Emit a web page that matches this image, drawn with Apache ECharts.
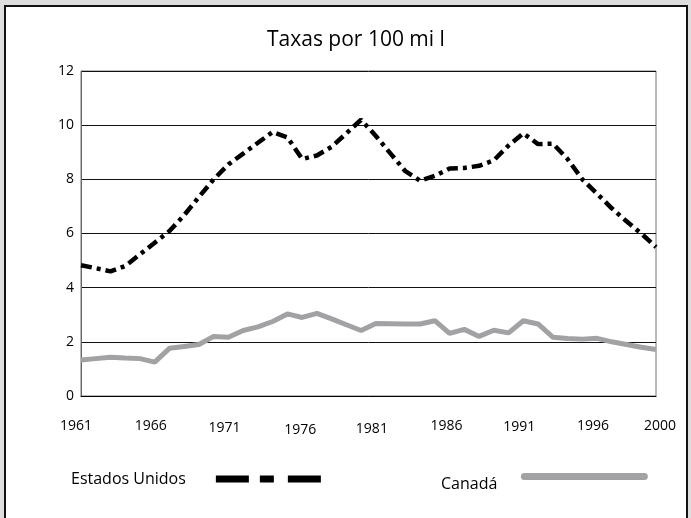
<!DOCTYPE html>
<html>
<head>
<meta charset="utf-8">
<script src="https://cdn.jsdelivr.net/npm/echarts@6/dist/echarts.min.js"></script>
<style>
  html, body { margin: 0; padding: 0; }
  body { width: 691px; height: 518px; background: #dedede; position: relative; overflow: hidden; }
  .frame {
    position: absolute; left: 4px; top: 5px; width: 680px; height: 520px;
    background: #fff; border: 2px solid #111; border-bottom: none;
  }
  #chart { position: absolute; left: 0; top: 0; width: 691px; height: 518px; }
</style>
</head>
<body>
<div class="frame"></div>
<div id="chart"></div>
<script>
// Years 1961..2000
const years = []
for (let y = 1961; y <= 2000; y++) years.push(String(y))

const tickYears = ['1961', '1966', '1971', '1976', '1981', '1986', '1991', '1996', '2000']

const usRates = [
  4.83, 4.72, 4.6, 4.8, 5.23, 5.66, 6.09, 6.68, 7.35, 8.0,
  8.55, 8.95, 9.35, 9.75, 9.55, 8.75, 8.88, 9.2, 9.7, 10.2,
  9.6, 8.95, 8.3, 7.95, 8.13, 8.4, 8.42, 8.5, 8.7, 9.25,
  9.7, 9.3, 9.32, 8.75, 8.0, 7.47, 6.93, 6.45, 6.0, 5.5
]

const canadaRates = [
  1.33, 1.38, 1.43, 1.4, 1.38, 1.25, 1.76, 1.83, 1.9, 2.2,
  2.17, 2.42, 2.55, 2.75, 3.03, 2.9, 3.05, 2.85, 2.63, 2.42,
  2.68, 2.67, 2.66, 2.66, 2.78, 2.31, 2.46, 2.2, 2.43, 2.33,
  2.78, 2.66, 2.17, 2.12, 2.1, 2.13, 2.0, 1.9, 1.8, 1.72
]

const font = 'Open Sans'
// year labels in the original wobble a little, [dx, dy]
const labelShift = {
  '1961': [-5, 0], '1966': [-4, -2], '1971': [-4, 2], '1976': [-2, 4], '1981': [-4, 3],
  '1986': [-3, 0], '1991': [-4, 1], '1996': [-4, -2], '2000': [4, 0]
}

const rich = {}
Object.keys(labelShift).forEach(k => {
  const [dx, dy] = labelShift[k]
  rich['y' + k] = {
    fontFamily: font, fontSize: 14, color: '#000',
    padding: [Math.max(dy, 0), Math.max(-dx * 2, 0), Math.max(-dy, 0), Math.max(dx * 2, 0)]
  }
})

const chart = echarts.init(document.getElementById('chart'))
chart.setOption({
  animation: false,
  title: {
    text: 'Taxas por 100 mi l',
    left: 262,
    top: 25,
    textStyle: { fontFamily: font, fontSize: 21, fontWeight: 'normal', color: '#000' }
  },
  grid: { left: 81, right: 35, top: 71, bottom: 122, show: true, borderColor: '#777', borderWidth: 1 },
  xAxis: {
    type: 'category',
    data: years,
    boundaryGap: false,
    axisLine: { lineStyle: { color: '#000', width: 1 } },
    axisTick: { show: false },
    axisLabel: {
      interval: 0,
      margin: 23,
      formatter: v => tickYears.includes(v) ? '{y' + v + '|' + v + '}' : '',
      rich
    }
  },
  yAxis: {
    type: 'value',
    min: 0,
    max: 12,
    interval: 2,
    axisLine: { show: true, lineStyle: { color: '#666' } },
    axisTick: { show: false },
    axisLabel: { fontFamily: font, fontSize: 14, color: '#000', margin: 7 },
    splitLine: { lineStyle: { color: '#111', width: 1 } }
  },
  legend: [
    {
      left: 66,
      top: 466,
      align: 'right',
      itemWidth: 105,
      itemHeight: 14,
      textStyle: { fontFamily: font, fontSize: 16, color: '#000', padding: [0, 25, 0, 0] },
      data: [{
        name: 'Estados Unidos',
        lineStyle: { color: '#000', width: 7, type: [33, 11, 14, 14] },
        itemStyle: { opacity: 0 }
      }]
    },
    {
      left: 436,
      top: 466,
      align: 'right',
      itemWidth: 120,
      itemHeight: 14,
      formatter: name => '{c|' + name + '}',
      textStyle: {
        fontFamily: font, fontSize: 16, color: '#000',
        rich: { c: { fontFamily: font, fontSize: 16, color: '#000', padding: [16, 22, 0, 0] } }
      },
      data: [{
        name: 'Canadá',
        lineStyle: { color: '#a2a2a4', width: 7, cap: 'round' },
        itemStyle: { opacity: 0 }
      }]
    }
  ],
  series: [
    {
      name: 'Estados Unidos',
      type: 'line',
      data: usRates,
      symbol: 'none',
      lineStyle: { color: '#000', width: 4.5, type: [11, 5, 4, 5] },
      itemStyle: { color: '#000' }
    },
    {
      name: 'Canadá',
      type: 'line',
      data: canadaRates,
      symbol: 'none',
      lineStyle: { color: '#a2a2a4', width: 5 },
      itemStyle: { color: '#a2a2a4' }
    }
  ]
})
</script>
</body>
</html>
